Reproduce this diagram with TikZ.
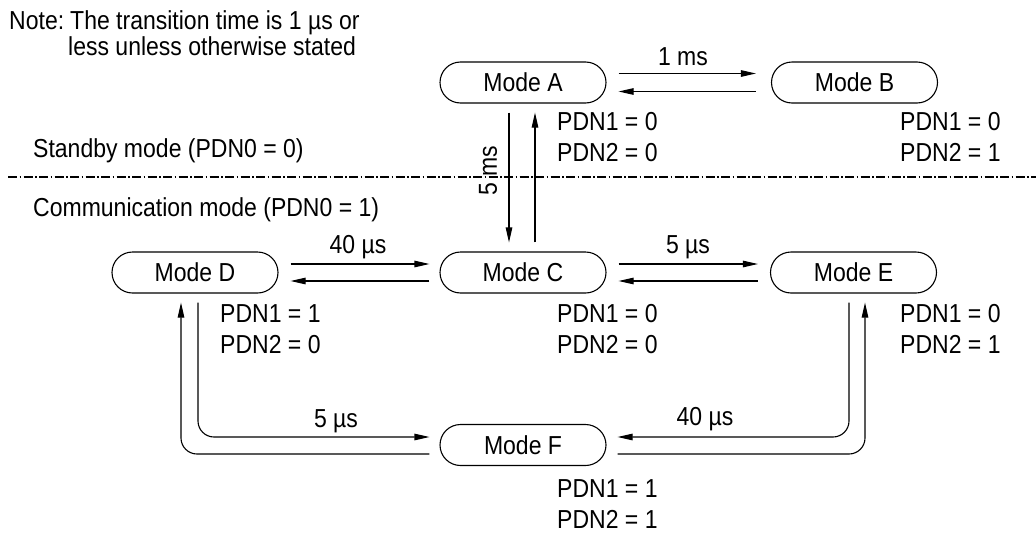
\documentclass[tikz,border=0pt]{standalone}
\usepackage{fontspec}
\setmainfont{Liberation Sans}[FakeStretch=0.885]
\usetikzlibrary{arrows.meta,calc}
\newcommand\pdnpair[5]{%
  \node[txt,anchor=base west] (#1a) at (#2,#3) {PDN1 = #4};
  \node[txt,anchor=base west] (#1b) at (#2,#3+31.5) {PDN2 = #5};}
\begin{document}
\begin{tikzpicture}[x=1pt,y=-1pt,
  mode/.style={draw, line width=1.1pt, rounded corners=20.5pt, minimum width=166pt, minimum height=41pt, inner sep=0pt, font=\fontsize{26}{30}\selectfont},
  txt/.style={inner sep=0pt, font=\fontsize{26}{30}\selectfont},
  arr/.style={line width=1.1pt, -{Triangle[length=15pt,width=6.5pt]}},
  bendarr/.style={arr, rounded corners=16pt},
  dashdot/.style={line width=1.1pt, dash pattern=on 9pt off 2.5pt on 1.5pt off 2.5pt}
]
\useasboundingbox (0,0) rectangle (1036,533);

\node[mode] (A) at (523,82.5) {Mode A};
\node[mode] (B) at (854.5,82.5) {Mode B};
\node[mode] (C) at (523,272.5) {Mode C};
\node[mode] (D) at (195,272.5) {Mode D};
\node[mode] (E) at (853.5,272.5) {Mode E};
\node[mode] (F) at (523,445) {Mode F};

\draw[arr] ($(A.east)+(12,-9)$) -- ($(B.west)+(-15,-9)$);
\draw[arr] ($(B.west)+(-15,9)$) -- ($(A.east)+(12,9)$);
\draw[arr] ($(A.south)+(-14,9)$) -- ($(C.north)+(-14,-9)$);
\draw[arr] ($(C.north)+(12,-9)$) -- ($(A.south)+(12,9)$);
\draw[arr] ($(D.east)+(12,-8.5)$) -- ($(C.west)+(-10,-8.5)$);
\draw[arr] ($(C.west)+(-10,8.5)$) -- ($(D.east)+(12,8.5)$);
\draw[arr] ($(C.east)+(12,-8.5)$) -- ($(E.west)+(-12,-8.5)$);
\draw[arr] ($(E.west)+(-12,8.5)$) -- ($(C.east)+(12,8.5)$);
\draw[bendarr] ($(D.south)+(3,9)$) |- ($(F.west)+(-10,-8)$);
\draw[bendarr] ($(F.west)+(-10,9)$) -| ($(D.south)+(-14,9)$);
\draw[bendarr] ($(E.south)+(-4.5,9)$) |- ($(F.east)+(11,-8)$);
\draw[bendarr] ($(F.east)+(11,9)$) -| ($(E.south)+(11.5,9)$);

\node[txt, anchor=base] (t1) at (683,65) {1 ms};
\node[txt, anchor=base] (t2) at (358,253) {40 µs};
\node[txt, anchor=base] (t3) at (688,253) {5 µs};
\node[txt, anchor=base] (t4) at (336,427) {5 µs};
\node[txt, anchor=base] (t5) at (705,425) {40 µs};
\node[txt, rotate=90] (t6) at (488,171) {5 ms};

\pdnpair{pa}{557}{130}{0}{0}
\pdnpair{pb}{900}{130}{0}{1}
\pdnpair{pc}{557}{322}{0}{0}
\pdnpair{pd}{220}{322}{1}{0}
\pdnpair{pe}{900}{322}{0}{1}
\pdnpair{pf}{557}{497}{1}{1}

\node[txt,anchor=base west] (note) at (9,29) {Note:};
\node[txt,anchor=base west] (n1) at (70,29) {The transition time is 1 µs or};
\node[txt,anchor=base west] (n2) at (68,55) {less unless otherwise stated};
\node[txt,anchor=base west] (sb) at (33,157) {Standby mode (PDN0 = 0)};
\node[txt,anchor=base west] (cm) at (33,216) {Communication mode (PDN0 = 1)};
\coordinate (dl) at (8,177);
\coordinate (dr) at (1036,177);
\draw[dashdot] (dl) -- (dr);
\end{tikzpicture}
\end{document}
